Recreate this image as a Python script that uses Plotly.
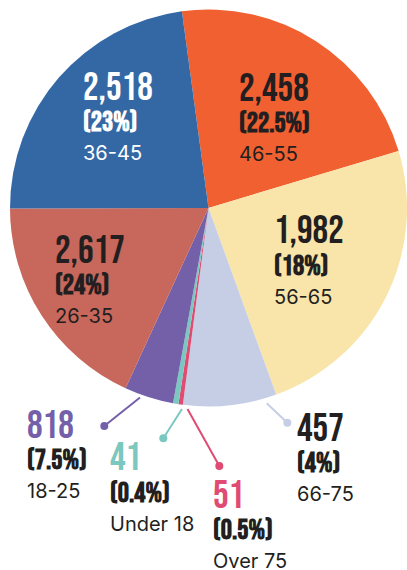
import plotly.graph_objects as go

# slices in drawing order, clockwise from just left of 12 o'clock
age_groups = ["46-55", "56-65", "66-75", "Over 75", "Under 18", "18-25", "26-35", "36-45"]
counts = [2458, 1982, 457, 51, 41, 818, 2617, 2518]
percents = ["22.5%", "18%", "4%", "0.5%", "0.4%", "7.5%", "24%", "23%"]
# slice sizes as they are drawn in the picture (%)
drawn_share = [22.5, 24.1, 7.6, 0.36, 0.44, 4.0, 18.1, 22.9]

colors = ["#F06030", "#F9E4A9", "#C6CEE5", "#DF4B73", "#7BC8C0", "#7460A9", "#C8675B", "#3468A5"]
num_colors = ["#231F20", "#231F20", "#231F20", "#DF4B73", "#7BC8C0", "#7460A9", "#231F20", "#FFFFFF"]
text_colors = ["#231F20"] * 7 + ["#FFFFFF"]

# label anchor (left, top of the big number) in pixels
label_pos = [(239, 75), (274, 218), (297, 415), (213, 482), (110, 445), (27, 412), (55, 237), (83, 74)]

# leader lines for the small slices: (start, dot)
leaders = {2: ((266.7, 403.3), (287.3, 422.7)),
           3: ((187.5, 409), (219.3, 466)),
           4: ((182, 409), (163.3, 438.3)),
           5: ((140, 397.5), (104.3, 426))}

W, H = 407, 570
NUM_FONT = "Bebas Neue, Oswald, Roboto Condensed, sans-serif"


def px(x):
    return x / W


def py(y):
    return 1 - y / H


fig = go.Figure(go.Pie(
    values=drawn_share,
    labels=age_groups,
    sort=False,
    direction="clockwise",
    rotation=-7.7,
    marker=dict(colors=colors, line=dict(width=0)),
    textinfo="none",
    hoverinfo="skip",
    domain=dict(x=[px(10), 1], y=[py(406.5), py(9.5)]),
))

for i, (x, y) in enumerate(label_pos):
    fig.add_annotation(x=px(x - 1), y=py(y + 14), text="{:,}".format(counts[i]),
                       font=dict(family=NUM_FONT, size=39, color=num_colors[i]))
    fig.add_annotation(x=px(x - 1), y=py(y + 48), text="<b>(" + percents[i] + ")</b>",
                       font=dict(family=NUM_FONT, size=28, color=text_colors[i]))
    fig.add_annotation(x=px(x - 1), y=py(y + 78.5), text=age_groups[i],
                       font=dict(family="Inter, sans-serif", size=20, color=text_colors[i]))

fig.update_annotations(xref="paper", yref="paper", xanchor="left", yanchor="middle",
                       showarrow=False, borderpad=0)

for i, ((x0, y0), (x1, y1)) in leaders.items():
    fig.add_shape(type="line", xref="paper", yref="paper",
                  x0=px(x0), y0=py(y0), x1=px(x1), y1=py(y1),
                  line=dict(color=colors[i], width=2))
    fig.add_shape(type="circle", xref="paper", yref="paper",
                  x0=px(x1 - 4), y0=py(y1 - 4), x1=px(x1 + 4), y1=py(y1 + 4),
                  fillcolor=colors[i], line=dict(width=0))

fig.update_layout(width=W, height=H, margin=dict(l=0, r=0, t=0, b=0),
                  showlegend=False, paper_bgcolor="white", plot_bgcolor="white")

fig.write_html("out.html", config={"displayModeBar": False},
               post_script="document.body.style.margin='0';")
